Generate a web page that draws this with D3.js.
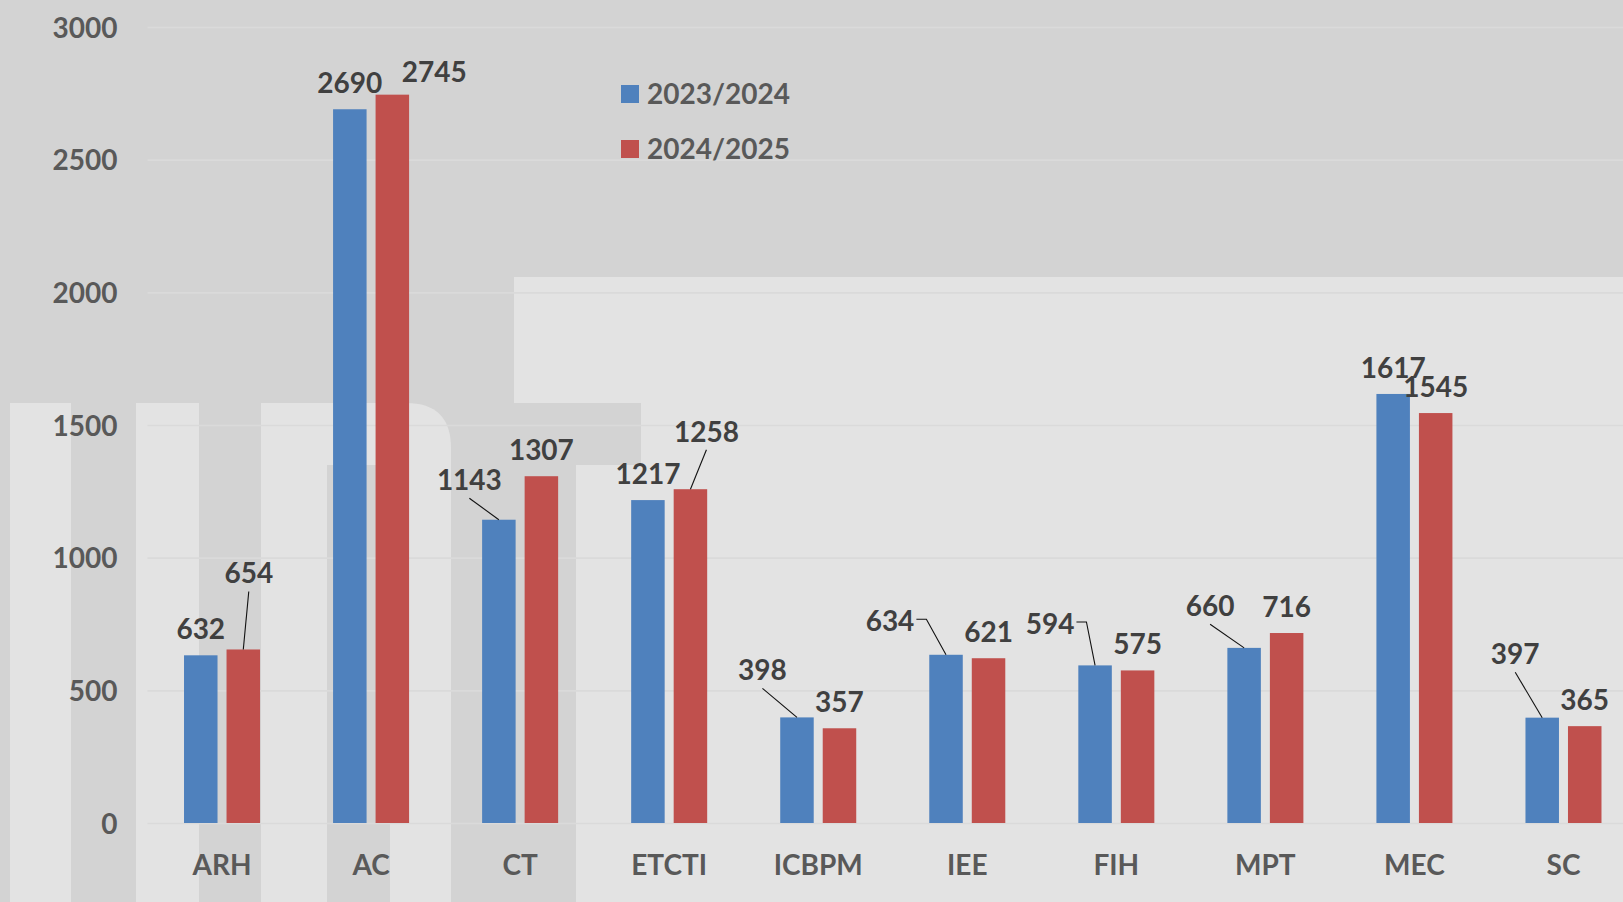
<!DOCTYPE html>
<html>
<head>
<meta charset="utf-8">
<script src="https://cdn.jsdelivr.net/npm/d3@7"></script>
<style>
  body { margin: 0; background: #d3d3d3; }
  svg text { font-family: Lato, "Open Sans", sans-serif; font-weight: 700; }
</style>
</head>
<body>
<div id="chart"></div>
<script>
// DATA--------------------
var categories = ["ARH", "AC", "CT", "ETCTI", "ICBPM", "IEE", "FIH", "MPT", "MEC", "SC"];
var seriesNames = ["2023/2024", "2024/2025"];
var values2324 = [632, 2690, 1143, 1217, 398, 634, 594, 660, 1617, 397];
var values2425 = [654, 2745, 1307, 1258, 357, 621, 575, 716, 1545, 365];
var yTicks = [0, 500, 1000, 1500, 2000, 2500, 3000];

// label nudges (dx, dy, leader type) -- layout only
var nudge2324 = [[0,0],[0,0],[-29.5,-13.5,"line"],[0,0],[-34.5,-21,"line"],[-56,-7.5,"elbow"],[-45,-15.4,"elbow"],[-34,-15.6,"line"],[0,0],[-27,-37.5,"line"]];
var nudge2425 = [[5.5,-50,"line"],[42,3],[0,0],[16,-31.5,"line"],[0,0],[0,0],[0,0],[0,0],[0,0],[0,0]];

//SET BOUNDARIES--------------------
var svgWidth = 1623;
var svgHeight = 902;
var plotLeft = 147.5, plotRight = 1638, plotTop = 27, plotBottom = 823;
var colors = ["#4f81bd", "#c0504d"];

var svg = d3.select("#chart").append("svg")
    .attr("width", svgWidth)
    .attr("height", svgHeight);

// background watermark shapes
var bg = svg.append("g");
bg.append("rect").attr("width", svgWidth).attr("height", svgHeight).attr("fill", "#d3d3d3");
var light = "#e3e3e3";
[[10,403,61,499],[136,403,63,499],[514,277,1109,126],[641,403,982,499],[576,465,65,437]].forEach(function(r) {
    bg.append("rect").attr("x", r[0]).attr("y", r[1]).attr("width", r[2]).attr("height", r[3]).attr("fill", light);
});
bg.append("path")
    .attr("d", "M261,902 L261,403 L406,403 Q451,403 451,448 L451,902 Z")
    .attr("fill", light);
bg.append("rect").attr("x", 327).attr("y", 465).attr("width", 63).attr("height", 437).attr("fill", "#d3d3d3");

// scales
var x = d3.scaleBand().domain(categories).range([plotLeft, plotRight]).padding(0);
var xSub = d3.scaleBand().domain(seriesNames).range([0, x.bandwidth()])
    .paddingInner(0.212).paddingOuter(0.859);
var y = d3.scaleLinear().domain([0, 3000]).range([plotBottom, plotTop]);

// gridlines
svg.append("g")
    .attr("transform", `translate(${plotLeft},0)`)
    .call(d3.axisLeft(y).tickValues(yTicks).tickSize(-(svgWidth - plotLeft)).tickFormat(""))
    .call(g => g.select(".domain").remove())
    .call(g => g.selectAll("line").attr("stroke", "#dadada").attr("stroke-width", 1.6));

// y labels
svg.append("g")
    .attr("transform", `translate(${plotLeft - 30},0)`)
    .call(d3.axisLeft(y).tickValues(yTicks).tickSize(0).tickPadding(0).tickFormat(d3.format("d")))
    .call(g => g.select(".domain").remove())
    .call(g => g.selectAll("text").attr("font-size", 28).attr("fill", "#595959").attr("dy", "0.36em"));

// x labels
svg.append("g")
    .attr("transform", `translate(0,${plotBottom})`)
    .call(d3.axisBottom(x).tickSize(0).tickPadding(0))
    .call(g => g.select(".domain").remove())
    .call(g => g.selectAll("text").attr("font-size", 28).attr("fill", "#595959").attr("y", 52).attr("dy", 0));

var series = [
    {name: seriesNames[0], values: values2324, nudge: nudge2324, color: colors[0]},
    {name: seriesNames[1], values: values2425, nudge: nudge2425, color: colors[1]}
];

series.forEach(function(s) {
    var g = svg.append("g");
    categories.forEach(function(c, i) {
        var bx = x(c) + xSub(s.name);
        var bw = xSub.bandwidth();
        var top = y(s.values[i]);
        g.append("rect")
            .attr("x", bx).attr("y", top)
            .attr("width", bw).attr("height", y(0) - top)
            .attr("fill", s.color);

        var cx = bx + bw / 2;
        var nd = s.nudge[i];
        var lx = cx + nd[0];
        var ly = top - 26 + nd[1];
        var t = svg.append("text")
            .attr("x", lx).attr("y", ly + 10)
            .attr("text-anchor", "middle")
            .attr("font-size", 28)
            .attr("fill", "#404040")
            .text(s.values[i]);
        if (nd[2] === "line") {
            svg.append("line")
                .attr("x1", lx).attr("y1", ly + 18)
                .attr("x2", cx).attr("y2", top)
                .attr("stroke", "#111").attr("stroke-width", 1.1);
        } else if (nd[2] === "elbow") {
            var half = t.node().getComputedTextLength() / 2;
            var sx = lx + half + 2;
            svg.append("polyline")
                .attr("points", `${sx},${ly - 2} ${sx + 10},${ly - 2} ${cx},${top}`)
                .attr("fill", "none")
                .attr("stroke", "#111").attr("stroke-width", 1.1);
        }
    });
});

// legend
var legend = svg.append("g").attr("transform", "translate(621,85)");
seriesNames.forEach(function(n, i) {
    legend.append("rect")
        .attr("x", 0).attr("y", i * 55)
        .attr("width", 18).attr("height", 18)
        .attr("fill", colors[i]);
    legend.append("text")
        .attr("x", 26).attr("y", i * 55 + 9 + 10)
        .attr("font-size", 28)
        .attr("fill", "#595959")
        .text(n);
});
</script>
</body>
</html>
